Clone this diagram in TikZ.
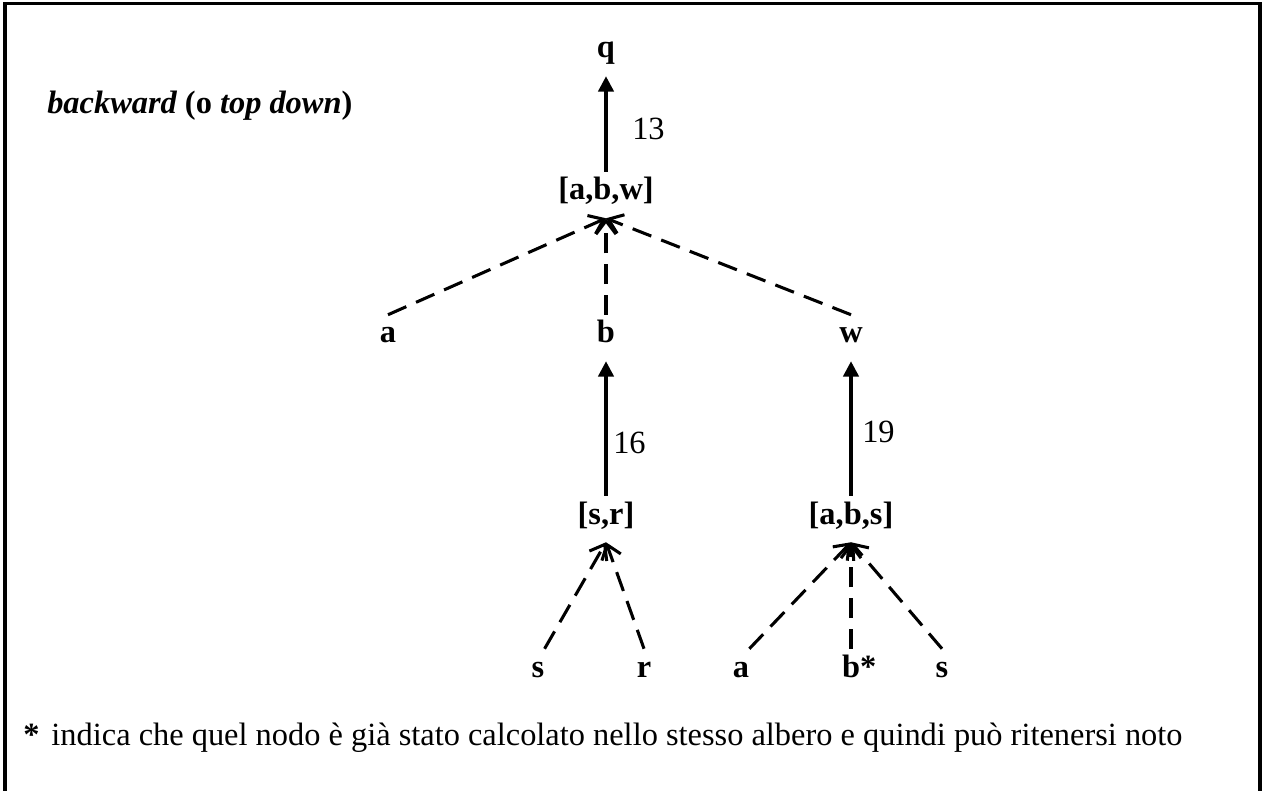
\documentclass[tikz,border=0pt]{standalone}
\usepackage{fontspec}
\setmainfont{Liberation Serif}
\usetikzlibrary{arrows.meta}

\begin{document}
\begin{tikzpicture}[x=0.75pt,y=-0.75pt,
  txt/.style={font=\fontsize{24.3}{29}\selectfont, inner sep=0pt},
  tn/.style={font=\fontsize{24.3}{29}\selectfont\bfseries, inner xsep=0pt,
    inner ysep=6pt, text height=15pt, text depth=7.5pt, anchor=base},
  solidarrow/.style={line width=2.5pt, -{Triangle[length=11.5pt,width=11.5pt]}},
  dasharrow/.style={line width=2.3pt, dash pattern=on 15pt off 8pt,
    -{Straight Barb[length=10pt,width=15pt]}},
  frame/.style={line width=2.4pt}
]
\useasboundingbox (0,0) rectangle (1263,791);

% outer frame (open at the bottom)
\draw[frame] (5,791) -- (5,3.8) -- (1260,3.8) -- (1260,791);

% title
\node[txt, anchor=base west] (title) at (47,114)
  {\bfseries\itshape backward \upshape(o \itshape top down\upshape)};

% tree nodes
\node[tn] (q)   at (606,58)  {q};
\node[tn] (abw) at (606,200) {[a,b,w]};
\node[tn] (a)   at (388,343) {a};
\node[tn] (b)   at (606,343) {b};
\node[tn] (w)   at (851,343) {w};
\node[tn] (sr)  at (606,524) {[s,r]};
\node[tn] (abs) at (851,524) {[a,b,s]};
\node[tn] (s1)  at (538,677) {s};
\node[tn] (r)   at (644,677) {r};
\node[tn] (a2)  at (741,677) {a};
\node[tn] (bstar) at (851,677) {b\rlap{*}};
\node[tn] (s2)  at (942,677) {s};

% rule numbers
\node[txt, anchor=base west] (n13) at (632,140) {13};
\node[txt, anchor=base west] (n16) at (613,453) {16};
\node[txt, anchor=base west] (n19) at (862,442) {19};

% connectors
\draw[solidarrow] (abw.north) -- (q.south);
\draw[dasharrow] (a.north) -- (abw.south);
\draw[dasharrow] (b.north) -- (abw.south);
\draw[dasharrow] (w.north) -- (abw.south);
\draw[solidarrow] (sr.north) -- (b.south);
\draw[solidarrow] (abs.north) -- (w.south);
\draw[dasharrow] (s1.north east) -- (sr.south);
\draw[dasharrow] (r.north) -- (sr.south);
\draw[dasharrow] (a2.north east) -- (abs.south);
\draw[dasharrow] (bstar.north) -- (abs.south);
\draw[dasharrow] (s2.north) -- (abs.south);

% footnote
\node[txt, anchor=base west] (note) at (23,745)
  {\textbf{*}\hspace{9pt}indica che quel nodo è già stato calcolato nello stesso albero e quindi può ritenersi noto};
\end{tikzpicture}
\end{document}
